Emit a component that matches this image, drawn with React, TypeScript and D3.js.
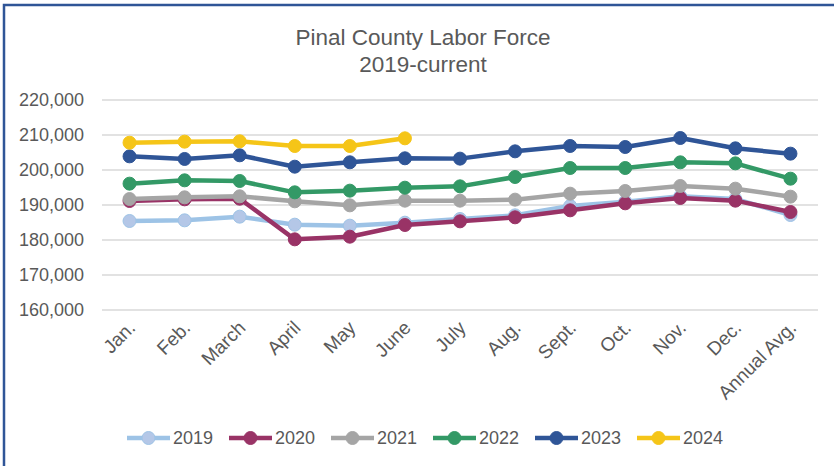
import React, { useEffect, useRef } from "react";
import * as d3 from "d3";

// categories and series
const months = ["Jan.", "Feb.", "March", "April", "May", "June", "July", "Aug.", "Sept.", "Oct.", "Nov.", "Dec.", "Annual Avg."];
const years = ["2019", "2020", "2021", "2022", "2023", "2024"];
const yTicks = [160000, 170000, 180000, 190000, 200000, 210000, 220000];

const v2019 = [185430, 185620, 186670, 184380, 184100, 184950, 186000, 187050, 189710, 190950, 192480, 191710, 187140];
const v2020 = [191140, 191620, 191800, 180190, 180950, 184290, 185330, 186480, 188480, 190480, 192000, 191240, 188000];
const v2021 = [191710, 192190, 192480, 191050, 189900, 191240, 191240, 191530, 193240, 194000, 195430, 194670, 192380];
const v2022 = [196100, 197050, 196860, 193620, 194100, 194950, 195330, 198000, 200570, 200570, 202190, 201900, 197520];
const v2023 = [203900, 203150, 204200, 200950, 202200, 203340, 203250, 205330, 206860, 206570, 209140, 206190, 204670];
const v2024 = [207800, 208100, 208200, 206850, 206850, 209050];

const colors = ["#9DC3E6", "#993366", "#A5A5A5", "#339966", "#2F5597", "#F5C518"];
const markerFill = ["#B4C7E7", "#993366", "#A5A5A5", "#339966", "#2F5597", "#F5C518"];

const W = 834;
const H = 466;

function LaborForceChart() {
  const svgRef = useRef<SVGSVGElement>(null);

  useEffect(() => {
    const svg = d3.select(svgRef.current);
    svg.selectAll("*").remove();
    const series = [v2019, v2020, v2021, v2022, v2023, v2024];
    const font = "'Liberation Sans', Arial, sans-serif";
    const textColor = "#595959";

    // frame
    svg.append("rect").attr("width", W).attr("height", H).attr("fill", "#fff");
    svg
      .append("rect")
      .attr("x", 4)
      .attr("y", 5)
      .attr("width", 900)
      .attr("height", 600)
      .attr("fill", "none")
      .attr("stroke", "#2F5597")
      .attr("stroke-width", 2.5);

    // title
    const title = svg
      .append("text")
      .attr("text-anchor", "middle")
      .attr("font-family", font)
      .attr("font-size", 22.5)
      .attr("fill", textColor);
    title.append("tspan").attr("x", 423).attr("y", 45).text("Pinal County Labor Force");
    title.append("tspan").attr("x", 423).attr("y", 72).text("2019-current");

    // scales
    const x = d3.scaleBand().domain(months).range([102, 818]);
    const cx = (m: string) => (x(m) as number) + x.bandwidth() / 2;
    const y = d3.scaleLinear().domain([160000, 220000]).range([310, 100]);

    // grid
    svg
      .append("g")
      .selectAll("line")
      .data(yTicks)
      .join("line")
      .attr("x1", 102)
      .attr("x2", 818)
      .attr("y1", (d) => y(d))
      .attr("y2", (d) => y(d))
      .attr("stroke", "#D9D9D9")
      .attr("stroke-width", 1.5);

    // y axis labels
    const yAxis = d3
      .axisLeft(y)
      .tickValues(yTicks)
      .tickFormat((d) => d3.format(",")(d as number))
      .tickSize(0)
      .tickPadding(0);
    const ya = svg.append("g").attr("transform", "translate(84,0)").call(yAxis);
    ya.select(".domain").remove();
    ya.selectAll("text")
      .attr("font-family", font)
      .attr("font-size", 18)
      .attr("fill", textColor);

    // x axis labels
    svg
      .append("g")
      .selectAll("text")
      .data(months)
      .join("text")
      .attr("transform", (d) => `translate(${cx(d) + 7},${329}) rotate(-45)`)
      .attr("text-anchor", "end")
      .attr("font-family", font)
      .attr("font-size", 19)
      .attr("fill", textColor)
      .text((d) => d);

    // lines
    const line = d3
      .line<number>()
      .x((_, i) => cx(months[i]))
      .y((d) => y(d));

    series.forEach((vals, si) => {
      const g = svg.append("g");
      g.append("path")
        .datum(vals)
        .attr("d", line)
        .attr("fill", "none")
        .attr("stroke", colors[si])
        .attr("stroke-width", 4.5)
        .attr("stroke-linejoin", "round");
      g.selectAll("circle")
        .data(vals)
        .join("circle")
        .attr("cx", (_, i) => cx(months[i]))
        .attr("cy", (d) => y(d))
        .attr("r", 6.5)
        .attr("fill", markerFill[si])
        .attr("stroke", colors[si])
        .attr("stroke-width", 1);
    });

    // legend
    const leg = svg
      .append("g")
      .selectAll("g")
      .data(years)
      .join("g")
      .attr("transform", (_, i) => `translate(${127 + i * 102},438)`);
    leg
      .append("line")
      .attr("x1", 0)
      .attr("x2", 43)
      .attr("stroke", (_, i) => colors[i])
      .attr("stroke-width", 4.5);
    leg
      .append("circle")
      .attr("cx", 21.5)
      .attr("r", 6.5)
      .attr("fill", (_, i) => markerFill[i])
      .attr("stroke", (_, i) => colors[i]);
    leg
      .append("text")
      .attr("x", 46)
      .attr("dy", "0.35em")
      .attr("font-family", font)
      .attr("font-size", 18)
      .attr("fill", textColor)
      .text((d) => d);
  }, []);

  return <svg ref={svgRef} width={W} height={H} style={{ position: "absolute", left: 0, top: 0 }} />;
}

export default function App() {
  return <LaborForceChart />;
}
